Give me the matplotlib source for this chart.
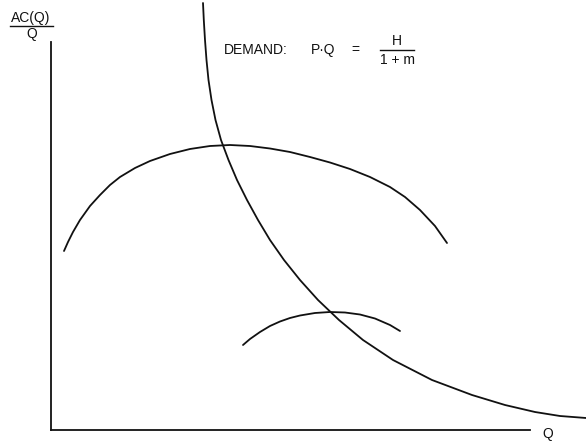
import matplotlib
matplotlib.use("Agg")
import matplotlib.pyplot as plt
from matplotlib.lines import Line2D

# curve points (Q, AC(Q)/Q in arbitrary units)
demand_q = [152, 152.8, 154, 155.5, 157.5, 160.5, 164.5, 170, 177.5, 186, 196, 207, 219,
            233, 249, 267, 288, 312, 342, 381, 421, 454, 484, 509, 535]
demand_p = [427, 410, 390, 370, 350, 330, 310, 290, 270, 250, 230, 210, 190,
            170, 150, 130, 110, 90, 70, 50, 35, 25, 18, 14, 12]

big_ac_q = [13, 17, 22, 29, 39, 49, 59, 69, 84, 99, 119, 139, 159,
            179, 199, 219, 239, 259, 279, 299, 319, 339, 354, 369, 384, 396]
big_ac_p = [179, 188, 198, 210, 224, 235, 245, 253, 262, 269, 276, 281, 284,
            285, 284, 281.5, 278, 273, 267.5, 261, 253, 243, 233, 220, 204, 187]

small_ac_q = [192, 199, 209, 219, 229, 239, 249, 264, 279, 294, 309, 324, 339, 349]
small_ac_p = [85, 91, 98, 104, 108.5, 112, 114.5, 117, 118, 117.5, 115.5, 111.5, 105, 99]

Y_LABEL_TOP = "AC(Q)"
Y_LABEL_BOTTOM = "Q"
X_LABEL = "Q"

FONT = "Liberation Sans"
INK = "#111111"
FS = 10

fig = plt.figure(figsize=(5.86, 4.44), dpi=100)
ax = fig.add_axes([51 / 586, 14 / 444, 479 / 586, 388 / 444])
ax.set_xlim(0, 479)
ax.set_ylim(0, 388)
ax.set_xticks([])
ax.set_yticks([])
for side in ["top", "right"]:
    ax.spines[side].set_visible(False)
for side in ["left", "bottom"]:
    ax.spines[side].set_linewidth(1.3)
    ax.spines[side].set_color(INK)

line_kw = dict(color=INK, linewidth=1.3, clip_on=False,
               solid_capstyle="round", solid_joinstyle="round")
ax.plot(demand_q, demand_p, **line_kw)
ax.plot(big_ac_q, big_ac_p, **line_kw)
ax.plot(small_ac_q, small_ac_p, **line_kw)

# axis labels
fig.text(31 / 586, 1 - 18 / 444, Y_LABEL_TOP, ha="center", va="center",
         fontsize=FS, family=FONT, color=INK)
fig.add_artist(Line2D([10 / 586, 53 / 586], [1 - 26 / 444, 1 - 26 / 444],
                      color=INK, linewidth=1.0))
fig.text(32 / 586, 1 - 34 / 444, Y_LABEL_BOTTOM, ha="center", va="center",
         fontsize=FS, family=FONT, color=INK)
fig.text(548 / 586, 1 - 434 / 444, X_LABEL, ha="center", va="center",
         fontsize=FS, family=FONT, color=INK)

# demand equation
fig.text(224 / 586, 1 - 50 / 444, "DEMAND:", ha="left", va="center",
         fontsize=FS, family=FONT, color=INK)
fig.text(311 / 586, 1 - 50 / 444, "P\u00b7Q", ha="left", va="center",
         fontsize=FS, family=FONT, color=INK)
fig.text(355 / 586, 1 - 50 / 444, "=", ha="center", va="center",
         fontsize=FS, family=FONT, color=INK)
fig.text(397 / 586, 1 - 41 / 444, "H", ha="center", va="center",
         fontsize=FS, family=FONT, color=INK)
fig.add_artist(Line2D([380 / 586, 414 / 586], [1 - 50 / 444, 1 - 50 / 444],
                      color=INK, linewidth=1.0))
fig.text(397 / 586, 1 - 60 / 444, "1 + m", ha="center", va="center",
         fontsize=FS, family=FONT, color=INK)

fig.savefig("out.png", dpi=100)
